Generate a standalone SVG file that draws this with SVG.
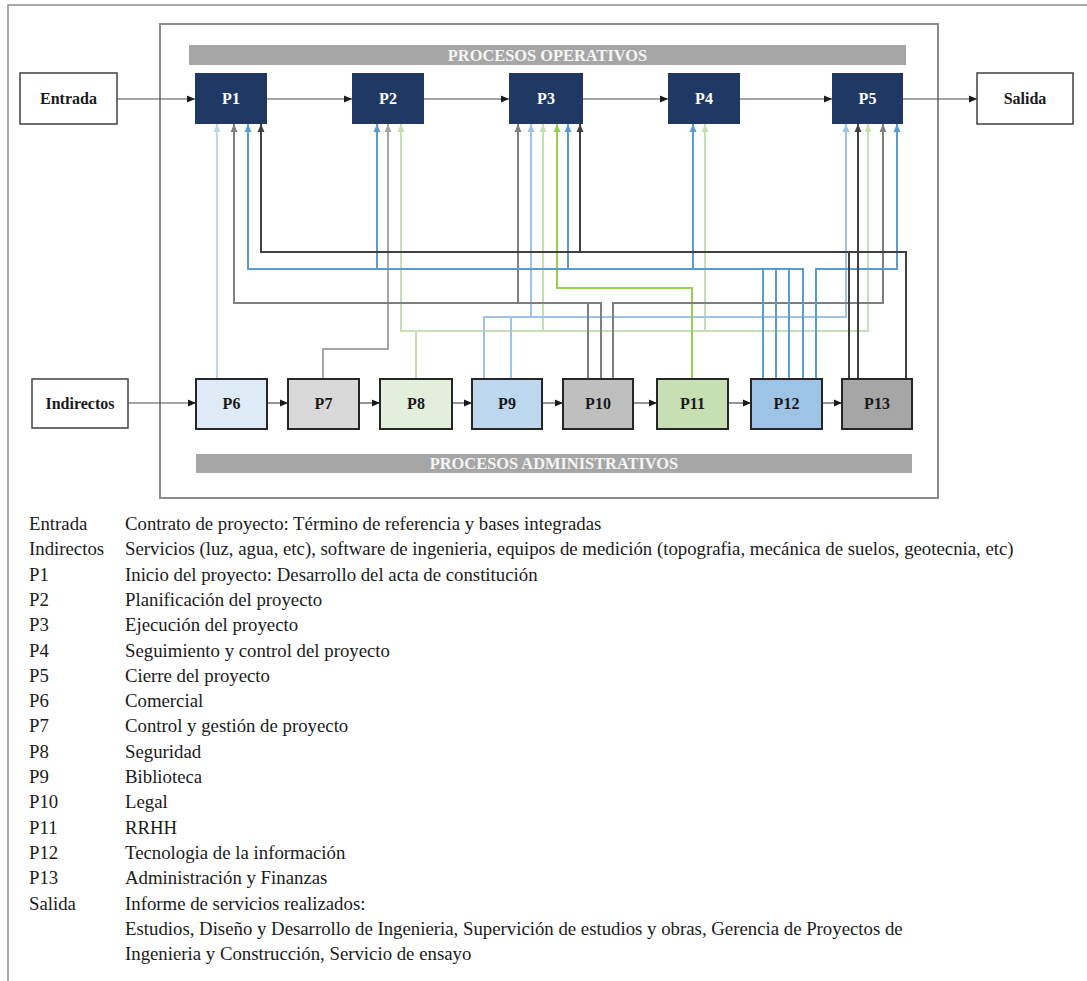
<svg xmlns="http://www.w3.org/2000/svg" width="1087" height="981" viewBox="0 0 1087 981">
  <defs>
    <style>
      .frame { fill: none; stroke: #8c8c8c; stroke-width: 2; }
      .bar { fill: #a6a6a6; }
      .bartxt { font-family: "Liberation Serif", "Times New Roman", serif; font-weight: bold; font-size: 16.4px; fill: #f5f5f5; text-anchor: middle; }
      .op { fill: #1f3864; }
      .optxt { font-family: "Liberation Serif", "Times New Roman", serif; font-weight: bold; font-size: 16px; fill: #ffffff; text-anchor: middle; }
      .io { fill: #ffffff; stroke: #404040; stroke-width: 1.5; }
      .adm { stroke: #262626; stroke-width: 2; }
      .lbl { font-family: "Liberation Serif", "Times New Roman", serif; font-weight: bold; font-size: 16px; fill: #1a1a1a; text-anchor: middle; }
      .flow { fill: none; stroke: #4d4d4d; stroke-width: 1.2; marker-end: url(#ah); }
      .ln { fill: none; stroke-width: 2; }
      .c6 { stroke: #bdd7ee; marker-end: url(#a6); }
      .c7 { stroke: #a6a6a6; marker-end: url(#a7); }
      .c8 { stroke: #c5e0b4; marker-end: url(#a8); }
      .c9 { stroke: #9dc3e6; marker-end: url(#a9); }
      .c10 { stroke: #7f7f7f; marker-end: url(#a10); }
      .c11 { stroke: #92d050; marker-end: url(#a11); }
      .c12 { stroke: #5b9bd5; marker-end: url(#a12); }
      .c13 { stroke: #404040; marker-end: url(#a13); }
      .leg { font-family: "Liberation Serif", "Times New Roman", serif; font-size: 18.8px; fill: #1a1a1a; }
    </style>
    <marker id="ah" viewBox="0 0 8 8" refX="8" refY="4" markerWidth="8" markerHeight="8" markerUnits="userSpaceOnUse" orient="auto"><path d="M0,0.5 L8,4 L0,7.5 z" fill="#1a1a1a"/></marker>
    <marker id="a6" viewBox="0 0 8 8" refX="8" refY="4" markerWidth="8" markerHeight="8" markerUnits="userSpaceOnUse" orient="auto"><path d="M0,0.5 L8,4 L0,7.5 z" fill="#bdd7ee"/></marker>
    <marker id="a7" viewBox="0 0 8 8" refX="8" refY="4" markerWidth="8" markerHeight="8" markerUnits="userSpaceOnUse" orient="auto"><path d="M0,0.5 L8,4 L0,7.5 z" fill="#a6a6a6"/></marker>
    <marker id="a8" viewBox="0 0 8 8" refX="8" refY="4" markerWidth="8" markerHeight="8" markerUnits="userSpaceOnUse" orient="auto"><path d="M0,0.5 L8,4 L0,7.5 z" fill="#c5e0b4"/></marker>
    <marker id="a9" viewBox="0 0 8 8" refX="8" refY="4" markerWidth="8" markerHeight="8" markerUnits="userSpaceOnUse" orient="auto"><path d="M0,0.5 L8,4 L0,7.5 z" fill="#9dc3e6"/></marker>
    <marker id="a10" viewBox="0 0 8 8" refX="8" refY="4" markerWidth="8" markerHeight="8" markerUnits="userSpaceOnUse" orient="auto"><path d="M0,0.5 L8,4 L0,7.5 z" fill="#7f7f7f"/></marker>
    <marker id="a11" viewBox="0 0 8 8" refX="8" refY="4" markerWidth="8" markerHeight="8" markerUnits="userSpaceOnUse" orient="auto"><path d="M0,0.5 L8,4 L0,7.5 z" fill="#92d050"/></marker>
    <marker id="a12" viewBox="0 0 8 8" refX="8" refY="4" markerWidth="8" markerHeight="8" markerUnits="userSpaceOnUse" orient="auto"><path d="M0,0.5 L8,4 L0,7.5 z" fill="#5b9bd5"/></marker>
    <marker id="a13" viewBox="0 0 8 8" refX="8" refY="4" markerWidth="8" markerHeight="8" markerUnits="userSpaceOnUse" orient="auto"><path d="M0,0.5 L8,4 L0,7.5 z" fill="#404040"/></marker>
  </defs>

  <rect width="1087" height="981" fill="#ffffff"/>

  <!-- page border (top and left edges) -->
  <path d="M8,981 V5 H1087" fill="none" stroke="#8c8c8c" stroke-width="1.5"/>

  <!-- process area frame and band headers -->
  <rect class="frame" x="160" y="24" width="778" height="474"/>
  <g id="band-operativos">
    <rect class="bar" x="189" y="45" width="717" height="20"/>
    <text class="bartxt" x="547.5" y="61">PROCESOS OPERATIVOS</text>
  </g>
  <g id="band-administrativos">
    <rect class="bar" x="196" y="454" width="716" height="19"/>
    <text class="bartxt" x="554" y="469">PROCESOS ADMINISTRATIVOS</text>
  </g>

  <!-- connectors -->
  <g id="connectors">
    <!-- main operative chain -->
    <path class="flow" d="M117,99 H195"/>
    <path class="flow" d="M267,99 H352"/>
    <path class="flow" d="M424,99 H509"/>
    <path class="flow" d="M583,99 H668"/>
    <path class="flow" d="M740,99 H832"/>
    <path class="flow" d="M903,99 H977"/>
    <!-- administrative chain -->
    <path class="flow" d="M128,403 H196"/>
    <path class="flow" d="M267,403 H288"/>
    <path class="flow" d="M359,403 H380"/>
    <path class="flow" d="M452,403 H472"/>
    <path class="flow" d="M542,403 H563"/>
    <path class="flow" d="M633,403 H657"/>
    <path class="flow" d="M728,403 H751"/>
    <path class="flow" d="M822,403 H842"/>

    <!-- P8 support -->
    <path class="ln c8" d="M416,379 V331 H401 V124"/>
    <path class="ln c8" d="M416,331 H868 V124"/>
    <path class="ln c8" d="M543,331 V124"/>
    <path class="ln c8" d="M705,331 V124"/>
    <!-- P6 support -->
    <path class="ln c6" d="M217,379 V124"/>
    <!-- P7 support -->
    <path class="ln c7" d="M323,379 V349 H388 V124"/>
    <!-- P9 support -->
    <path class="ln c9" d="M484,379 V317 H531 V124"/>
    <path class="ln c9" d="M511,379 V317 H846 V124"/>
    <!-- P11 support -->
    <path class="ln c11" d="M692,379 V288 H557 V124"/>
    <!-- P10 support -->
    <path class="ln c10" d="M588,379 V303 H234 V124"/>
    <path class="ln c10" d="M601,379 V303 H518 V124"/>
    <path class="ln c10" d="M613,379 V303 H883 V124"/>
    <!-- P12 support -->
    <path class="ln c12" d="M763,379 V269 H248 V124"/>
    <path class="ln c12" d="M776,379 V269 H377 V124"/>
    <path class="ln c12" d="M789,379 V269 H568 V124"/>
    <path class="ln c12" d="M803,379 V269 H693 V124"/>
    <path class="ln c12" d="M816,379 V269 H897 V124"/>
    <!-- P13 support -->
    <path class="ln c13" d="M849,379 V252 H261 V124"/>
    <path class="ln c13" d="M906,379 V252 H580 V124"/>
    <path class="ln c13" d="M858,379 V124"/>
  </g>

  <!-- inputs / outputs -->
  <g id="entrada"><rect class="io" x="20" y="73" width="97" height="51"/><text class="lbl" x="68.5" y="104">Entrada</text></g>
  <g id="salida"><rect class="io" x="977" y="73" width="96" height="51"/><text class="lbl" x="1025" y="104">Salida</text></g>
  <g id="indirectos"><rect class="io" x="32" y="379" width="96" height="49"/><text class="lbl" x="80" y="409">Indirectos</text></g>

  <!-- operative processes -->
  <g id="p1"><rect class="op" x="195" y="73" width="72" height="51"/><text class="optxt" x="231" y="104">P1</text></g>
  <g id="p2"><rect class="op" x="352" y="73" width="72" height="51"/><text class="optxt" x="388" y="104">P2</text></g>
  <g id="p3"><rect class="op" x="509" y="73" width="74" height="51"/><text class="optxt" x="546" y="104">P3</text></g>
  <g id="p4"><rect class="op" x="668" y="73" width="72" height="51"/><text class="optxt" x="704" y="104">P4</text></g>
  <g id="p5"><rect class="op" x="832" y="73" width="71" height="51"/><text class="optxt" x="867.5" y="104">P5</text></g>

  <!-- administrative processes -->
  <g id="p6"><rect class="adm" fill="#deebf7" x="196" y="379" width="71" height="50"/><text class="lbl" x="231.5" y="409">P6</text></g>
  <g id="p7"><rect class="adm" fill="#d9d9d9" x="288" y="379" width="71" height="50"/><text class="lbl" x="323.5" y="409">P7</text></g>
  <g id="p8"><rect class="adm" fill="#e2efda" x="380" y="379" width="72" height="50"/><text class="lbl" x="416" y="409">P8</text></g>
  <g id="p9"><rect class="adm" fill="#bdd7ee" x="472" y="379" width="70" height="50"/><text class="lbl" x="507" y="409">P9</text></g>
  <g id="p10"><rect class="adm" fill="#bfbfbf" x="563" y="379" width="70" height="50"/><text class="lbl" x="598" y="409">P10</text></g>
  <g id="p11"><rect class="adm" fill="#c6e0b4" x="657" y="379" width="71" height="50"/><text class="lbl" x="692.5" y="409">P11</text></g>
  <g id="p12"><rect class="adm" fill="#9dc3e6" x="751" y="379" width="71" height="50"/><text class="lbl" x="786.5" y="409">P12</text></g>
  <g id="p13"><rect class="adm" fill="#a6a6a6" x="842" y="379" width="70" height="50"/><text class="lbl" x="877" y="409">P13</text></g>

  <!-- legend -->
  <g id="legend" class="leg">
    <text x="29" y="530">Entrada</text><text x="125" y="530">Contrato de proyecto: Término de referencia y bases integradas</text>
    <text x="29" y="555.3">Indirectos</text><text x="125" y="555.3">Servicios (luz, agua, etc), software de ingenieria, equipos de medición (topografia, mecánica de suelos, geotecnia, etc)</text>
    <text x="29" y="580.6">P1</text><text x="125" y="580.6">Inicio del proyecto: Desarrollo del acta de constitución</text>
    <text x="29" y="605.9">P2</text><text x="125" y="605.9">Planificación del proyecto</text>
    <text x="29" y="631.2">P3</text><text x="125" y="631.2">Ejecución del proyecto</text>
    <text x="29" y="656.5">P4</text><text x="125" y="656.5">Seguimiento y control del proyecto</text>
    <text x="29" y="681.8">P5</text><text x="125" y="681.8">Cierre del proyecto</text>
    <text x="29" y="707.1">P6</text><text x="125" y="707.1">Comercial</text>
    <text x="29" y="732.4">P7</text><text x="125" y="732.4">Control y gestión de proyecto</text>
    <text x="29" y="757.7">P8</text><text x="125" y="757.7">Seguridad</text>
    <text x="29" y="783">P9</text><text x="125" y="783">Biblioteca</text>
    <text x="29" y="808.3">P10</text><text x="125" y="808.3">Legal</text>
    <text x="29" y="833.6">P11</text><text x="125" y="833.6">RRHH</text>
    <text x="29" y="858.9">P12</text><text x="125" y="858.9">Tecnologia de la información</text>
    <text x="29" y="884.2">P13</text><text x="125" y="884.2">Administración y Finanzas</text>
    <text x="29" y="909.5">Salida</text><text x="125" y="909.5">Informe de servicios realizados:</text>
    <text x="125" y="934.8">Estudios, Diseño y Desarrollo de Ingenieria, Supervición de estudios y obras, Gerencia de Proyectos de</text>
    <text x="125" y="960.1">Ingenieria y Construcción, Servicio de ensayo</text>
  </g>
</svg>
